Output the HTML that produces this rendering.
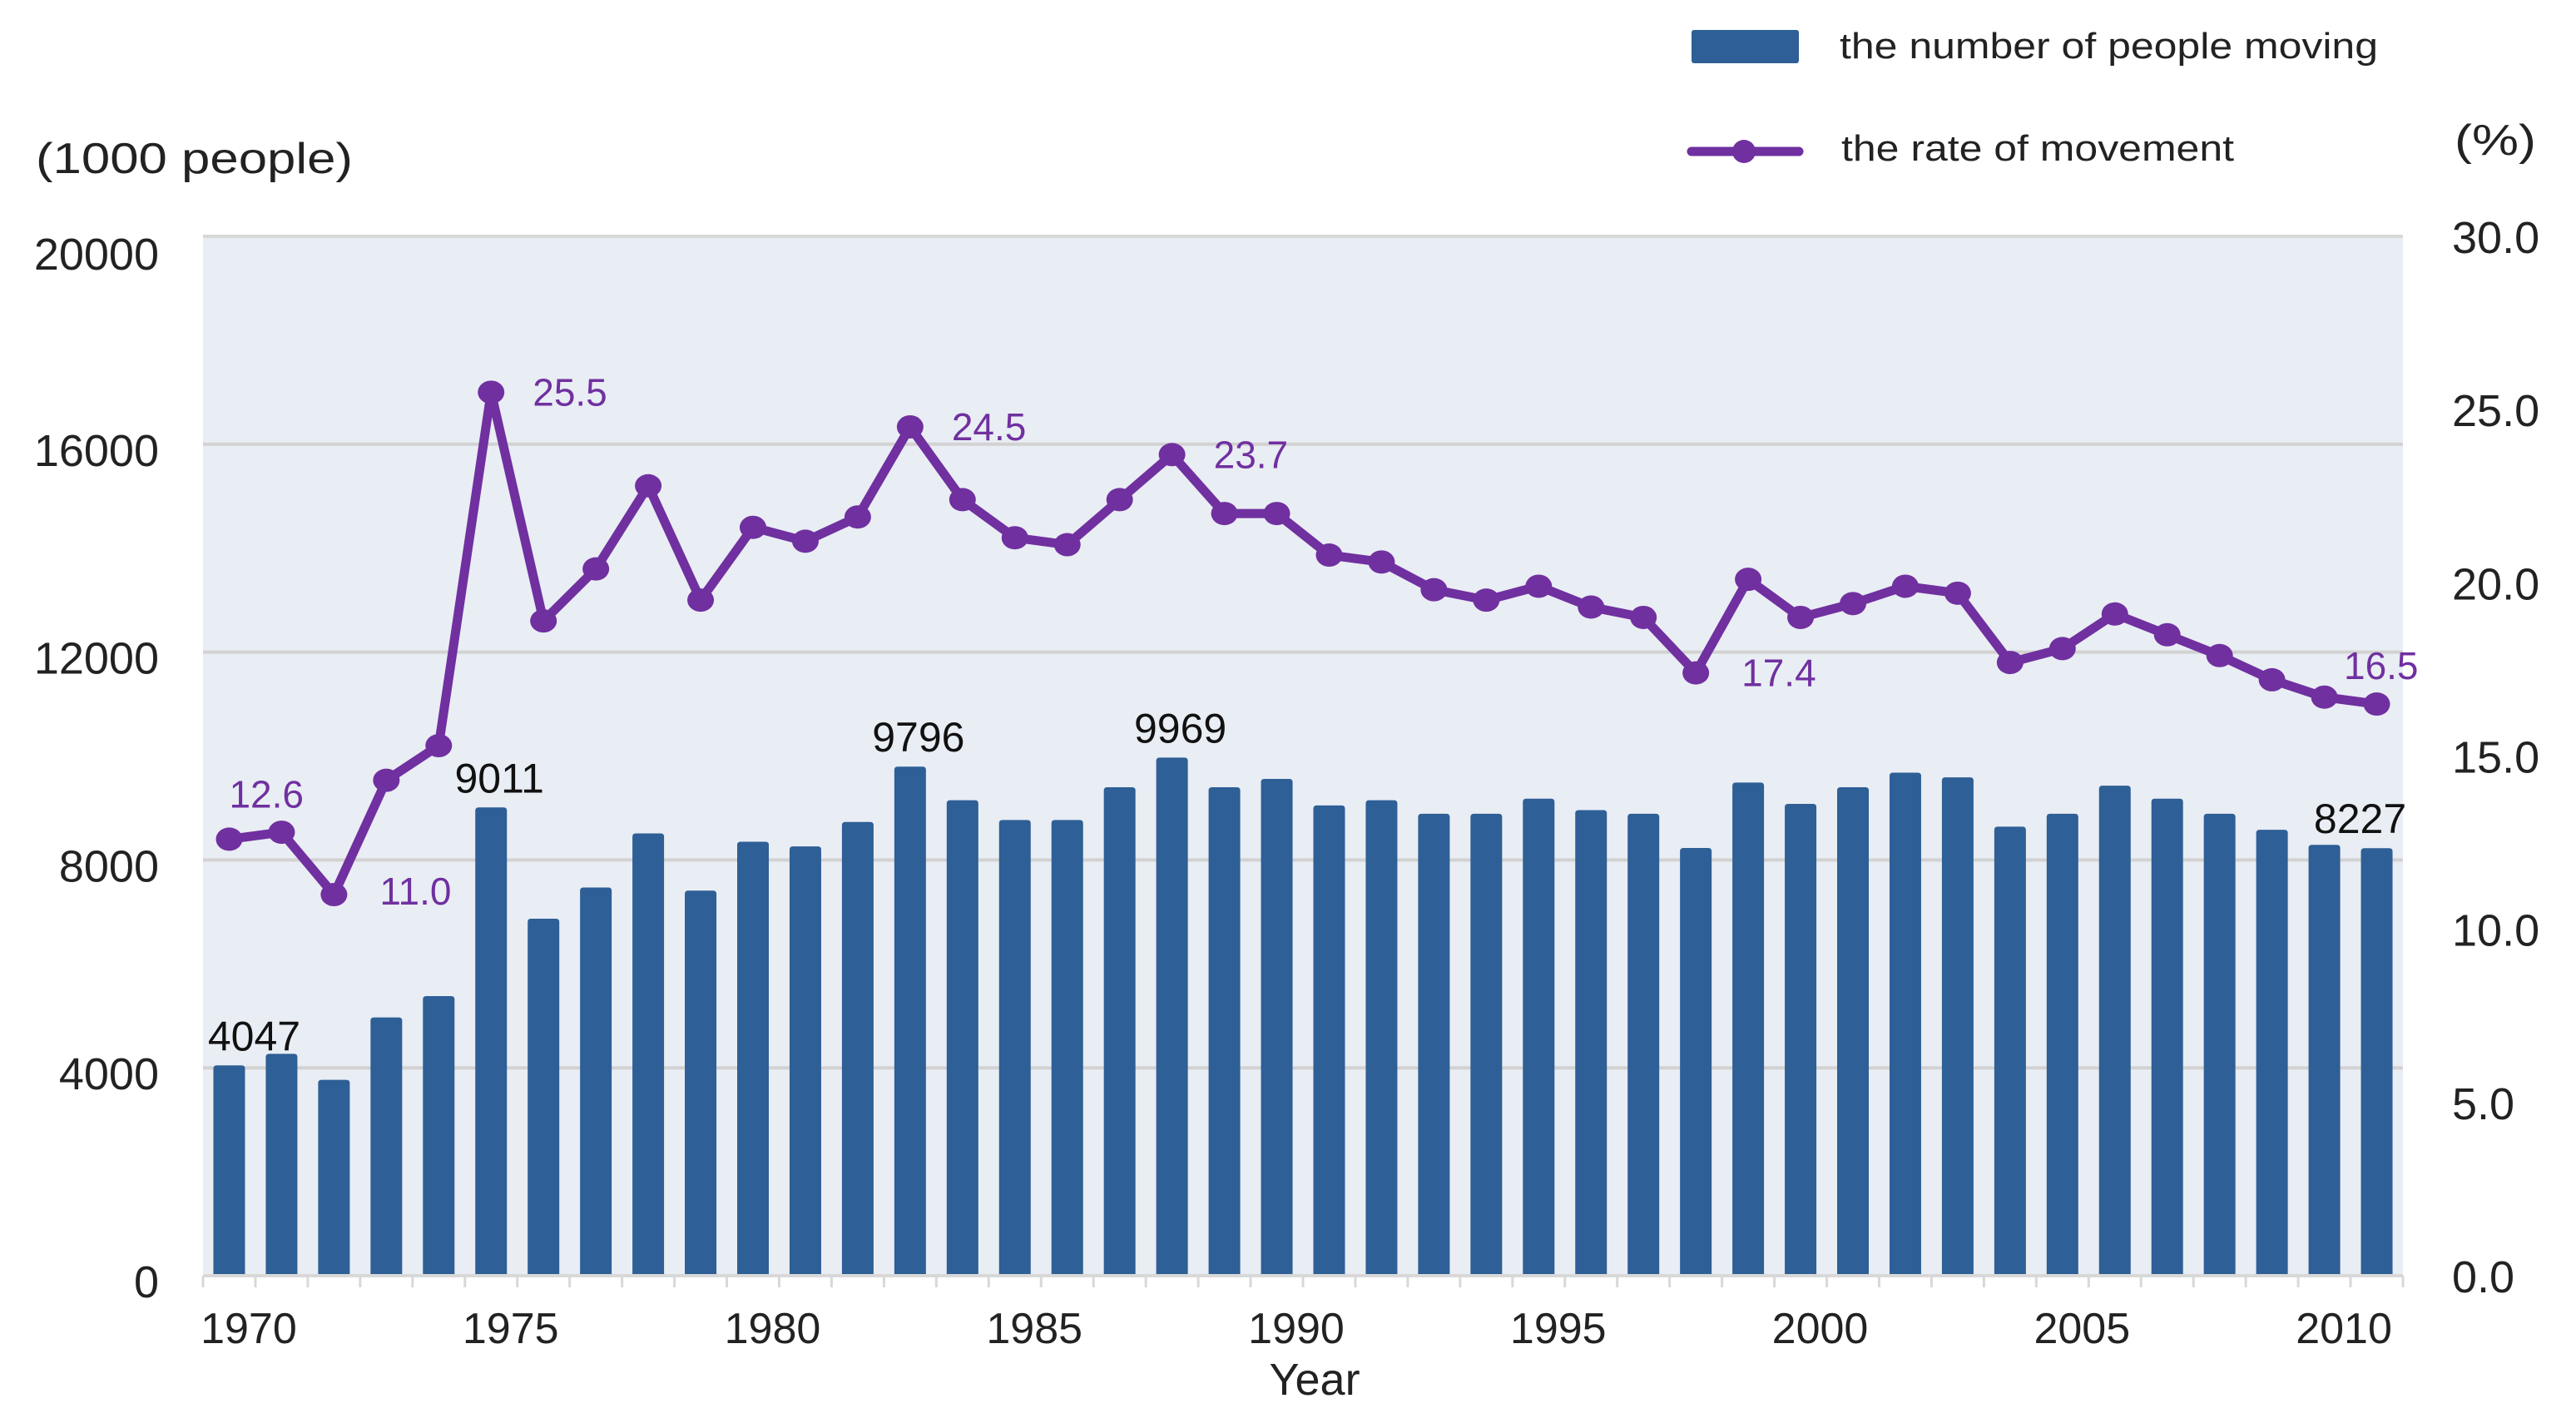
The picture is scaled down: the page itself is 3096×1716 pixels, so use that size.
<!DOCTYPE html>
<html><head><meta charset="utf-8"><style>
html,body{margin:0;padding:0;background:#fff;}
svg{display:block;font-family:"Liberation Sans",Arial,sans-serif;}
</style></head><body>
<svg id="chart" width="3096" height="1716" viewBox="0 0 3096 1716" xmlns="http://www.w3.org/2000/svg">
<rect x="244" y="284" width="2644" height="1249" fill="#e9edf4"/>
<g id="grid"></g><g id="bars"></g><g id="line"></g><g id="labels"></g><g id="axes"></g>
<text x="43" y="208" font-size="52" fill="#222" textLength="381" lengthAdjust="spacingAndGlyphs">(1000 people)</text>
<text x="2950" y="186" font-size="52" fill="#222" textLength="98" lengthAdjust="spacingAndGlyphs">(%)</text>
<text x="1580" y="1676" font-size="54" fill="#222" text-anchor="middle">Year</text>
<rect x="2033" y="36" width="129" height="40" rx="3" fill="#2e5f96"/>
<text x="2211" y="70" font-size="44" fill="#222" textLength="647" lengthAdjust="spacingAndGlyphs">the number of people moving</text>
<line x1="2033" y1="182" x2="2162" y2="182" stroke="#7030a0" stroke-width="11" stroke-linecap="round"/>
<circle cx="2096" cy="182" r="14" fill="#7030a0"/>
<text x="2213" y="193" font-size="44" fill="#222" textLength="472" lengthAdjust="spacingAndGlyphs">the rate of movement</text>
</svg>
<script>
const years = [];
for (let y = 1969; y <= 2010; y++) years.push(y);
const movers = [4047,4270,3770,4970,5380,9011,6870,7470,8510,7410,8350,8260,8730,9796,9150,8770,8770,9400,9969,9400,9560,9050,9150,8890,8890,9180,8960,8890,8230,9490,9080,9400,9680,9590,8640,8890,9430,9180,8890,8580,8290,8227];
const rate = [12.6,12.8,11.0,14.3,15.3,25.5,18.9,20.4,22.8,19.5,21.6,21.2,21.9,24.5,22.4,21.3,21.1,22.4,23.7,22.0,22.0,20.8,20.6,19.8,19.5,19.9,19.3,19.0,17.4,20.1,19.0,19.4,19.9,19.7,17.7,18.1,19.1,18.5,17.9,17.2,16.7,16.5];
const leftTicks = [0,4000,8000,12000,16000,20000];
const rightTicks = ["0.0","5.0","10.0","15.0","20.0","25.0","30.0"];
const xTickLabels = ["1970","1975","1980","1985","1990","1995","2000","2005","2010"];
const barLabelIdx = [0,5,13,18,41];
const rateLabelIdx = [0,2,5,13,18,28,41];

const NS = "http://www.w3.org/2000/svg";
const L = 244, R = 2888, T = 284, B = 1533;
const band = (R - L) / movers.length;
const xC = i => L + band * (i + 0.5);
const yL = v => B - (v / 20000) * (B - T);
const yR = v => B - (v / 30) * (B - T);
function mk(tag, attrs, parent, text) {
  const e = document.createElementNS(NS, tag);
  for (const k in attrs) e.setAttribute(k, attrs[k]);
  if (text !== undefined) e.textContent = text;
  document.getElementById(parent).appendChild(e);
  return e;
}
leftTicks.forEach((v, i) => {
  if (v > 0 && v < 20000) {
    const g = mk('line', {x1: L, x2: R, y1: yL(v), y2: yL(v), stroke: '#d2d2d2', 'stroke-width': 4}, 'grid');
    
    
  }
  const t = mk('text', {x: 191, y: yL(v) + 26 + (v === 20000 ? 14 : 0), 'font-size': 54, 'text-anchor': 'end', fill: '#222'}, 'axes', String(v));
  
  
});
const topLine = mk('line', {x1: L, x2: R, y1: T, y2: T, stroke: '#d8d8d8', 'stroke-width': 4}, 'grid');


rightTicks.forEach((s, i) => {
  const t = mk('text', {x: 2947, y: yR(i * 5) + 20, 'font-size': 54, fill: '#222'}, 'axes', s);
  
  
});
movers.forEach((v, i) => {
  const w = 38;
  const b = mk('path', {d: `M${xC(i)-w/2},${B} V${yL(v)+4} Q${xC(i)-w/2},${yL(v)} ${xC(i)-w/2+4},${yL(v)} H${xC(i)+w/2-4} Q${xC(i)+w/2},${yL(v)} ${xC(i)+w/2},${yL(v)+4} V${B} Z`, fill: '#2e5f96'}, 'bars');
  
  
});
const base = mk('line', {x1: L, x2: R, y1: B, y2: B, stroke: '#d8d8d8', 'stroke-width': 4}, 'axes');


for (let k = 0; k <= movers.length; k++) {
  const tk = mk('line', {x1: L + band * k, x2: L + band * k, y1: B, y2: B + 14, stroke: '#d8d8d8', 'stroke-width': 3}, 'axes');
  
  
}
xTickLabels.forEach((s, k) => {
  const t = mk('text', {x: L + band * (1 + 5 * k) - 8, y: 1614, 'font-size': 52, 'text-anchor': 'middle', fill: '#222'}, 'axes', s);
  
  
});
const pts = rate.map((v, i) => xC(i) + ',' + yR(v)).join(' ');
const pl = mk('polyline', {points: pts, fill: 'none', stroke: '#7030a0', 'stroke-width': 11, 'stroke-linejoin': 'round'}, 'line');


rate.forEach((v, i) => {
  const c = mk('ellipse', {cx: xC(i), cy: yR(v), rx: 16, ry: 14, fill: '#7030a0'}, 'line');
  
  
});
barLabelIdx.forEach(i => {
  const t = mk('text', {x: xC(i) + (i === 0 ? 30 : i === 41 ? -20 : 10), y: yL(movers[i]) - 18, 'font-size': 50, 'text-anchor': 'middle', fill: '#111'}, 'labels', String(movers[i]));
  
  
});
rateLabelIdx.forEach(i => {
  let dx = 50, dy = 16, anchor = 'start';
  if (i === 0) { dx = 0; dy = -38; anchor = 'start'; }
  if (i === 2) { dx = 55; dy = 12; }
  if (i === 28) { dx = 55; dy = 16; }
  if (i === 41) { dx = 50; dy = -30; anchor = 'end'; }
  const t = mk('text', {x: xC(i) + dx, y: yR(rate[i]) + dy, 'font-size': 46, 'text-anchor': anchor, fill: '#7030a0'}, 'labels', rate[i].toFixed(1));
  
  
});
</script>
</body></html>
